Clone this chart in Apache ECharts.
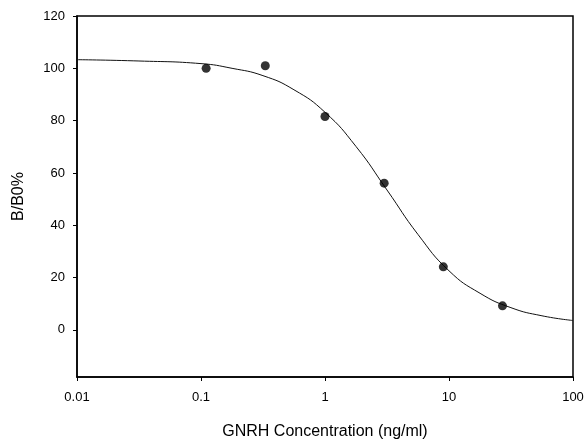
<!DOCTYPE html>
<html>
<head>
<meta charset="utf-8">
<script src="https://cdn.jsdelivr.net/npm/echarts@6/dist/echarts.min.js"></script>
<style>
	html, body { margin: 0; padding: 0; background: #fff; }
	#chart { width: 587px; height: 441px; }
</style>
</head>
<body>
<div id="chart"></div>
<script type="text/javascript">
	// 测量点
	var concValues = [0.11, 0.33, 1, 3, 9, 27];
	var bb0Values = [100, 101, 81.6, 56.1, 24.1, 9.2];
	// 拟合曲线
	var curveX = [0.01, 0.0316, 0.1, 0.178, 0.316, 0.562, 1, 1.78, 3.16, 5.62, 10, 17.8, 31.6, 56.2, 100];
	var curveY = [103.3, 102.8, 101.8, 100.0, 97.2, 91.8, 83.2, 70.1, 53.5, 36.5, 22.6, 14.0, 8.5, 5.4, 3.6];
	// 刻度
	var xTickLabels = ['0.01', '0.1', '1', '10', '100'];
	var yTicks = [0, 20, 40, 60, 80, 100, 120];

	var pointData = concValues.map(function(x, i) { return [x, bb0Values[i]]; });
	var curveData = curveX.map(function(x, i) { return [x, curveY[i]]; });

	var chart = echarts.init(document.getElementById('chart'));
	var option = {
		animation: false,
		textStyle: { fontFamily: 'Liberation Sans, Arial, sans-serif' },
		grid: {
			left: 77, top: 16, right: 14, bottom: 64,
			outerBoundsMode: 'none',
			containLabel: false,
			show: true,
			borderColor: '#000',
			borderWidth: 1.5
		},
		xAxis: {
			type: 'log',
			logBase: 10,
			min: 0.01,
			max: 100,
			name: 'GNRH Concentration (ng/ml)',
			nameLocation: 'middle',
			nameGap: 47,
			nameTextStyle: { color: '#000', fontSize: 16 },
			axisLine: { show: true, onZero: false, lineStyle: { color: '#000', width: 1.5 } },
			axisTick: { show: true, inside: false, length: 4, lineStyle: { color: '#000' } },
			minorTick: { show: false },
			splitLine: { show: false },
			axisLabel: {
				color: '#000',
				fontSize: 13,
				margin: 14,
				formatter: function(v) {
					var idx = Math.round(Math.log10(v)) + 2;
					return xTickLabels[idx] || '';
				}
			}
		},
		yAxis: {
			type: 'value',
			min: -18,
			max: 120,
			name: 'B/B0%',
			nameLocation: 'middle',
			nameGap: 50,
			nameTextStyle: { color: '#000', fontSize: 16 },
			axisLine: { show: true, onZero: false, lineStyle: { color: '#000', width: 1.5 } },
			axisTick: { show: true, inside: false, length: 4, customValues: yTicks, lineStyle: { color: '#000' } },
			splitLine: { show: false },
			axisLabel: { color: '#000', fontSize: 13, margin: 12, customValues: yTicks }
		},
		series: [
			{
				name: 'fit',
				type: 'line',
				data: curveData,
				smooth: 0.5,
				showSymbol: false,
				lineStyle: { color: '#111', width: 1 },
				z: 2
			},
			{
				name: 'data',
				type: 'scatter',
				data: pointData,
				symbol: 'circle',
				symbolSize: 9,
				itemStyle: { color: '#000' },
				z: 3
			}
		]
	};
	chart.setOption(option);
</script>
</body>
</html>
